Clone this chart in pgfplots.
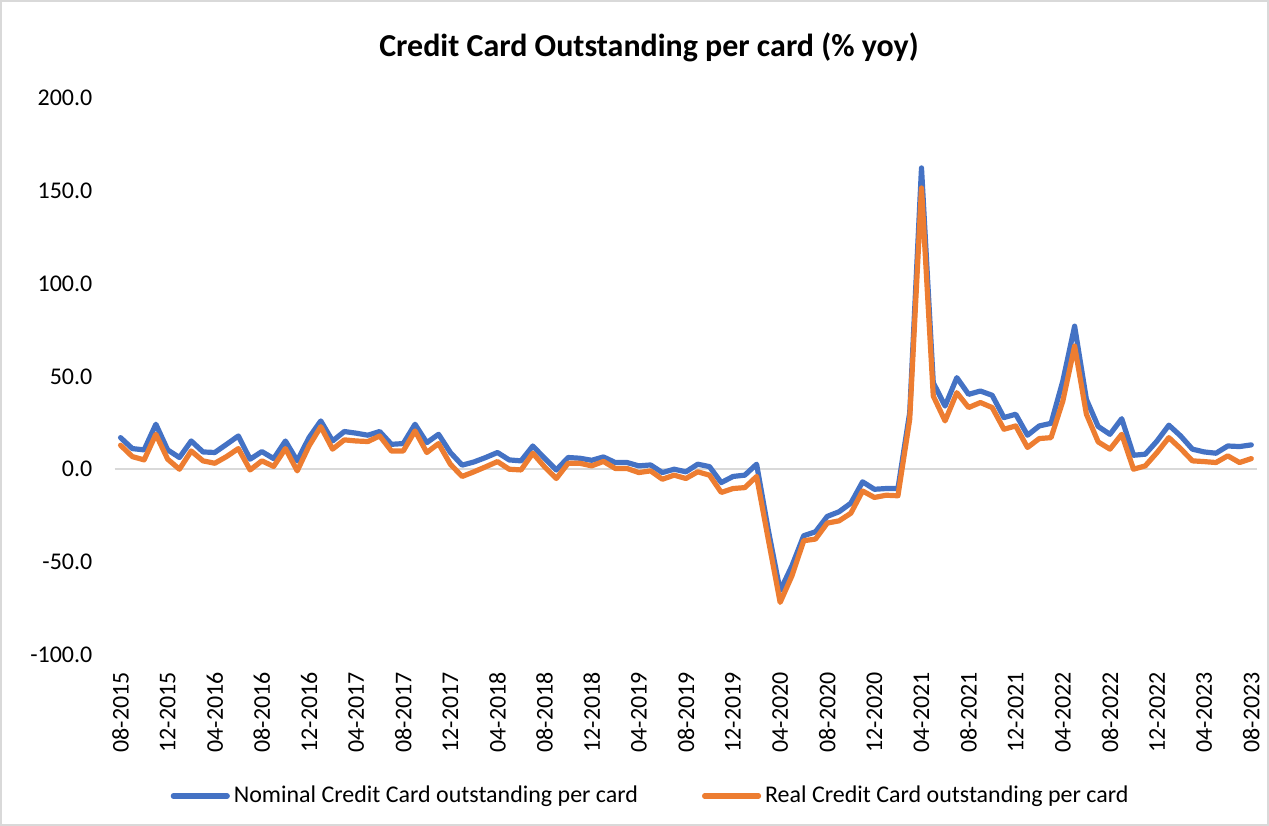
\documentclass[border=0pt]{standalone}
\usepackage{pgfplots}
\usepackage{pgfplotstable}
\pgfplotsset{compat=1.18}
\usepackage{fontspec}
\setmainfont{Carlito}
\definecolor{xlblue}{HTML}{4472C4}
\definecolor{xlorange}{HTML}{ED7D31}
\definecolor{zerogray}{HTML}{D9D9D9}
\pgfplotstableread{
m nom real
0 17.0 12.9
1 11.1 6.8
2 10.4 5.0
3 24.2 18.8
4 10.4 5.4
5 6.3 0.0
6 15.2 9.8
7 9.3 4.5
8 9.0 3.2
9 13.4 6.8
10 17.9 11.1
11 5.4 -0.4
12 9.5 4.5
13 5.7 1.5
14 15.2 11.1
15 4.5 -0.9
16 17.0 12.5
17 26.0 22.9
18 15.2 10.8
19 20.3 15.8
20 19.4 15.2
21 18.3 14.9
22 20.3 17.9
23 13.4 9.8
24 13.8 9.8
25 24.2 20.6
26 14.3 9.0
27 18.8 13.8
28 9.0 2.7
29 2.2 -3.9
30 3.9 -1.4
31 6.3 1.3
32 9.0 4.1
33 5.0 0.0
34 4.5 -0.4
35 12.5 8.6
36 5.9 1.3
37 -0.4 -5.0
38 6.3 3.2
39 5.9 3.2
40 4.8 1.8
41 6.6 4.2
42 3.6 0.4
43 3.6 0.4
44 1.8 -1.8
45 2.3 -0.9
46 -1.8 -5.4
47 0.0 -3.2
48 -1.4 -5.0
49 2.7 -1.4
50 1.4 -3.2
51 -7.2 -12.5
52 -3.9 -10.4
53 -3.2 -9.9
54 2.7 -3.9
55 -33.0 -38.0
56 -65.4 -71.7
57 -52.0 -57.4
58 -35.8 -38.5
59 -33.7 -37.6
60 -25.4 -29.0
61 -22.9 -27.8
62 -18.3 -23.7
63 -6.8 -11.7
64 -10.8 -15.2
65 -10.4 -14.0
66 -10.4 -14.3
67 30.5 26.9
68 162.2 151.4
69 46.6 39.4
70 34.0 26.0
71 49.3 41.2
72 40.3 33.2
73 42.1 35.9
74 39.8 33.2
75 27.8 21.5
76 29.6 23.3
77 18.3 11.7
78 23.3 16.5
79 24.7 17.0
80 47.5 36.7
81 77.0 66.3
82 37.6 29.6
83 23.0 14.7
84 18.8 10.8
85 27.2 18.8
86 7.5 0.0
87 8.1 1.8
88 15.2 9.0
89 23.7 17.0
90 17.9 11.1
91 10.8 4.5
92 9.3 4.1
93 8.6 3.6
94 12.5 7.2
95 12.2 3.6
96 13.1 5.7
}\datatable
\begin{document}
\begin{tikzpicture}
\draw[draw=zerogray, line width=0.8pt, use as bounding box] (0,0) rectangle (634.5pt,412.5pt);
\node[font=\fontsize{16}{19}\selectfont\bfseries] at (324.5pt,389pt) {Credit Card Outstanding per card (\% yoy)};
\begin{axis}[
  at={(57pt,85pt)}, anchor=south west,
  scale only axis, width=572pt, height=279pt,
  xmin=-0.5, xmax=96.5, ymin=-100, ymax=200,
  axis line style={draw=none},
  major tick length=0pt,
  ytick={-100,-50,0,50,100,150,200},
  yticklabels={-100.0,-50.0,0.0,50.0,100.0,150.0,200.0},
  xtick={0,4,...,96},
  xticklabels={08-2015,12-2015,04-2016,08-2016,12-2016,04-2017,08-2017,12-2017,04-2018,08-2018,12-2018,04-2019,08-2019,12-2019,04-2020,08-2020,12-2020,04-2021,08-2021,12-2021,04-2022,08-2022,12-2022,04-2023,08-2023},
  tick label style={font=\fontsize{12}{14}\selectfont},
  yticklabel style={anchor=east, inner xsep=0pt, xshift=-11pt},
  xticklabel style={yshift=-8.5pt, rotate=90, anchor=east, inner xsep=0pt},
  legend columns=2,
  legend style={at={(0.47,-0.253)}, anchor=center, draw=none, fill=none,
    font=\fontsize{12}{14}\selectfont, /tikz/every even column/.append style={column sep=30pt}},
  legend image code/.code={\draw[#1, line cap=round] (0pt,0pt) -- (27pt,0pt);},
  clip=false,
]
\draw[zerogray, line width=1pt] (axis cs:-0.5,0) -- (axis cs:96.5,0);
\addplot[xlblue, line width=2.6pt, line join=round, line cap=round] table[x=m, y=nom] {\datatable};
\addlegendentry{Nominal Credit Card outstanding per card}
\addplot[xlorange, line width=2.6pt, line join=round, line cap=round] table[x=m, y=real] {\datatable};
\addlegendentry{Real Credit Card outstanding per card}
\end{axis}
\end{tikzpicture}
\end{document}
